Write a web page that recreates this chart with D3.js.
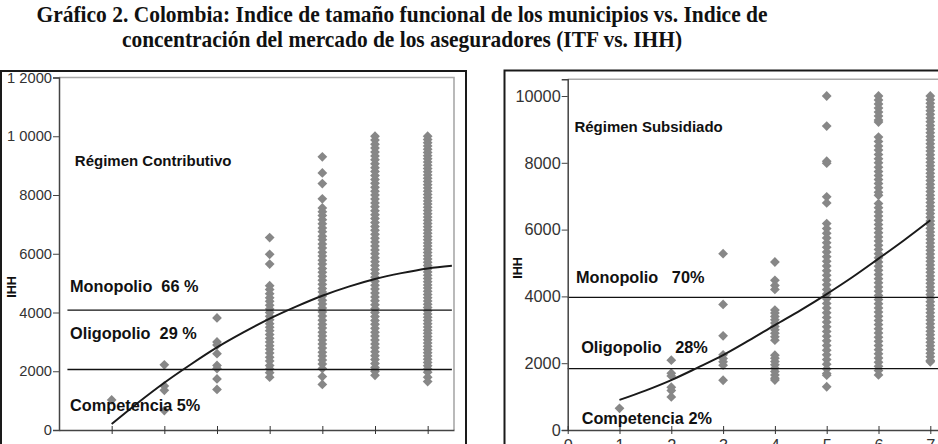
<!DOCTYPE html>
<html>
<head>
<meta charset="utf-8">
<script src="https://cdn.jsdelivr.net/npm/d3@7"></script>
<style>
  body { margin: 0; background: #fff; }
  svg { display: block; }
  text { font-family: "Liberation Sans", Arial, sans-serif; }
  .title { font-family: "Liberation Serif", "Times New Roman", serif; font-weight: bold; font-size: 24px; fill: #111; }
  .note { font-weight: bold; fill: #111; white-space: pre; }
</style>
</head>
<body>
<script>
// ---- data ----
var titleLines = ["Gráfico 2. Colombia: Indice de tamaño funcional de los municipios vs. Indice de",
                  "concentración del mercado de los aseguradores (ITF vs. IHH)"];
var titleWidths = [731, 560];

var itfTicks = [0, 1, 2, 3, 4, 5, 6, 7];
var ihhTicksContrib = [0, 2000, 4000, 6000, 8000, 10000, 12000];
var ihhLabelsContrib = ["0", "2000", "4000", "6000", "8000", "1 0000", "1 2000"];
var ihhTicksSubsid = [0, 2000, 4000, 6000, 8000, 10000];
var ihhLabelsSubsid = ["0", "2000", "4000", "6000", "8000", "10000"];

// Régimen Contributivo: IHH by ITF
var contrib1 = [1025];
var contrib2 = [2220, 1500, 1350, 660];
var contrib3 = [3815, 2995, 2890, 2600, 2200, 2090, 1740, 1380];
var contrib4 = [6550, 5980, 5650, 4910, 4780, 4640, 4500, 4380, 4250, 4120, 4000, 3870, 3750, 3620, 3500,
                3380, 3250, 3120, 3000, 2870, 2750, 2620, 2480, 2350, 2200, 2080, 1950, 1800];
var contrib5 = [9300, 8750, 8390, 7870, 7560, 7430, 7300, 7160, 7020, 6880, 6750, 6600, 6480, 6330, 6200,
                6050, 5920, 5780, 5650, 5500, 5370, 5230, 5100, 4960, 4820, 4700, 4560, 4420, 4290, 4150,
                4020, 3880, 3740, 3600, 3470, 3330, 3200, 3060, 2930, 2790, 2650, 2520, 2380, 2250, 2090,
                1820, 1550];
var contrib6 = [10000, 9870, 9730, 9600, 9460, 9330, 9200, 9060, 8930, 8800, 8660, 8530, 8400, 8260, 8130,
                8000, 7860, 7730, 7600, 7460, 7330, 7200, 7060, 6930, 6800, 6660, 6530, 6400, 6260, 6130,
                6000, 5860, 5730, 5600, 5460, 5330, 5200, 5060, 4930, 4800, 4660, 4530, 4400, 4260, 4130,
                4000, 3860, 3730, 3600, 3460, 3330, 3200, 3060, 2930, 2800, 2660, 2530, 2400, 2260, 2130,
                2000, 1860];
var contrib7 = [10000, 9890, 9780, 9670, 9560, 9450, 9340, 9230, 9120, 9010, 8900, 8790, 8680, 8570, 8460,
                8350, 8240, 8130, 8020, 7910, 7800, 7690, 7580, 7470, 7360, 7250, 7140, 7030, 6920, 6810,
                6700, 6590, 6480, 6370, 6260, 6150, 6040, 5930, 5820, 5710, 5600, 5490, 5380, 5270, 5160,
                5050, 4940, 4830, 4720, 4610, 4500, 4390, 4280, 4170, 4060, 3950, 3840, 3730, 3620, 3510,
                3400, 3290, 3180, 3070, 2960, 2850, 2740, 2630, 2520, 2410, 2300, 2190, 2080, 1970, 1800,
                1650];

// Régimen Subsidiado: IHH by ITF
var subsid1 = [650];
var subsid2 = [2090, 1700, 1620, 1280, 1180, 990];
var subsid3 = [5280, 3760, 2820, 2250, 2140, 2040, 1940, 1490];
var subsid4 = [5030, 4480, 4330, 4210, 3590, 3500, 3400, 3300, 3200, 3100, 3000, 2900, 2790, 2690,
               2240, 2150, 2050, 1950, 1850, 1750, 1650, 1550, 1495];
var subsid5 = [10000, 9100, 8050, 7990, 6980, 6800, 6180, 6030, 5890, 5750, 5610, 5470, 5330, 5190, 5050,
               4910, 4770, 4630, 4490, 4350, 4210, 4070, 3930, 3790, 3650, 3510, 3370, 3230, 3090, 2950,
               2810, 2670, 2530, 2390, 2250, 2110, 1970, 1830, 1690, 1640, 1295];
var subsid6 = [10000, 9880, 9760, 9640, 9520, 9400, 9280, 9220,
               8770, 8640, 8500, 8380, 8250, 8120, 8000, 7870, 7740, 7620, 7500, 7380, 7250, 7120, 7025,
               6780, 6655, 6530, 6405, 6280, 6155, 6030, 5905, 5780, 5655, 5530, 5405, 5280, 5155, 5030,
               4905, 4780, 4655, 4530, 4405, 4280, 4155, 4030, 3905, 3780, 3655, 3530, 3405, 3280, 3155,
               3030, 2905, 2780, 2655, 2530, 2405, 2280, 2155, 2030, 1905, 1780, 1650];
var subsid7 = [10000, 9890, 9780, 9670, 9560, 9450, 9340, 9230, 9120, 9010, 8900, 8790, 8680, 8570, 8460,
               8350, 8240, 8130, 8020, 7910, 7800, 7690, 7580, 7470, 7360, 7250, 7140, 7030, 6920, 6810,
               6700, 6590, 6480, 6370, 6260, 6150, 6040, 5930, 5820, 5710, 5600, 5490, 5380, 5270, 5160,
               5050, 4940, 4830, 4720, 4610, 4500, 4390, 4280, 4170, 4060, 3950, 3840, 3730, 3620, 3510,
               3400, 3290, 3180, 3070, 2960, 2850, 2740, 2630, 2520, 2410, 2300, 2190, 2080, 2040];

// trend curves (itf, ihh)
var trendContribX = [1, 1.5, 2, 2.5, 3, 3.5, 4, 4.5, 5, 5.5, 6, 6.5, 7, 7.46];
var trendContribY = [205, 930, 1610, 2230, 2810, 3320, 3790, 4200, 4570, 4880, 5140, 5340, 5500, 5590];
var trendSubsidX = [1, 1.5, 2, 2.5, 3, 3.5, 4, 4.5, 5, 5.5, 6, 6.5, 7];
var trendSubsidY = [900, 1180, 1495, 1860, 2240, 2680, 3140, 3590, 4070, 4580, 5130, 5690, 6280];

// market thresholds and their shares
var thresholdsContrib = [4080, 2060];
var thresholdsSubsid = [3970, 1840];
var marketNames = ["Monopolio", "Oligopolio", "Competencia"];
var sharesContrib = ["  66 %", "  29 %", " 5%"];
var sharesSubsid = ["   70%", "   28%", " 2%"];

// ---- drawing ----
var W = 938, H = 444;
var svg = d3.select("body").append("svg").attr("width", W).attr("height", H);

svg.selectAll("text.title").data(titleLines).enter().append("text")
    .attr("class", "title")
    .attr("x", 402)
    .attr("y", function(d, i){ return 22 + i * 25; })
    .attr("text-anchor", "middle")
    .attr("textLength", function(d, i){ return titleWidths[i]; })
    .attr("lengthAdjust", "spacingAndGlyphs")
    .text(function(d){ return d; });

function toPoints(cols){
  var pts = [];
  cols.forEach(function(vals, i){
    vals.forEach(function(v){ pts.push({itf: i + 1, ihh: v}); });
  });
  return pts;
}

function drawPanel(p){
  var g = svg.append("g");
  var x = d3.scaleLinear().domain(p.xDomain).range(p.xRange);
  var y = d3.scaleLinear().domain(p.yDomain).range(p.yRange);

  // outer frame
  g.append("rect").attr("x", p.frame[0]).attr("y", p.frame[1])
    .attr("width", p.frame[2]).attr("height", p.frame[3])
    .attr("fill", "none").attr("stroke", "#1a1a1a").attr("stroke-width", 2);

  // light plot border (top, right)
  g.append("path")
    .attr("d", "M" + x(p.xDomain[0]) + "," + y(p.yDomain[1]) + "H" + x(p.xDomain[1]) + "V" + y(0))
    .attr("fill", "none").attr("stroke", "#a9a9a9").attr("stroke-width", 1.6);

  // points
  var sym = d3.symbol().type(d3.symbolSquare).size(48);
  g.append("g").selectAll("path").data(toPoints(p.cols)).enter().append("path")
    .attr("d", sym)
    .attr("transform", function(d){ return "translate(" + x(d.itf) + "," + y(d.ihh) + ") rotate(45)"; })
    .attr("fill", "#878787");

  // thresholds
  g.append("g").selectAll("line").data(p.thresholds).enter().append("line")
    .attr("x1", x(p.lineFrom)).attr("x2", x(p.lineTo))
    .attr("y1", function(d){ return y(d); }).attr("y2", function(d){ return y(d); })
    .attr("stroke", "#111").attr("stroke-width", 1.3);

  // trend
  var trend = p.trendX.map(function(d, i){ return [d, p.trendY[i]]; });
  g.append("path").datum(trend)
    .attr("d", d3.line().x(function(d){ return x(d[0]); }).y(function(d){ return y(d[1]); }).curve(d3.curveMonotoneX))
    .attr("fill", "none").attr("stroke", "#1a1a1a").attr("stroke-width", 2);

  // axes
  var yAxis = d3.axisLeft(y).tickValues(p.yTicks).tickSize(6).tickPadding(1)
    .tickFormat(function(d, i){ return p.yLabels[i]; });
  var ya = g.append("g").attr("transform", "translate(" + x(0) + ",0)").call(yAxis);
  ya.select(".domain").attr("stroke", "#444").attr("stroke-width", 1.5);
  ya.selectAll(".tick line").attr("stroke", "#444");
  ya.selectAll("text").attr("font-size", p.tickFont).attr("fill", "#333")
    .attr("font-family", "'Liberation Sans', Arial, sans-serif");

  var xAxis = d3.axisBottom(x).tickValues(p.xTicks).tickSize(4).tickPadding(5).tickSizeOuter(0)
    .tickFormat(p.xLabels ? d3.format("d") : "");
  var xa = g.append("g").attr("transform", "translate(0," + y(0) + ")").call(xAxis);
  xa.select(".domain").attr("stroke", "#444").attr("stroke-width", 1.5);
  xa.selectAll(".tick line").attr("stroke", "#333").attr("y1", -4);
  xa.selectAll("text").attr("font-size", p.tickFont).attr("fill", "#333")
    .attr("font-family", "'Liberation Sans', Arial, sans-serif");

  // y label
  g.append("text").attr("class", "note")
    .attr("transform", "translate(" + p.ihhPos[0] + "," + p.ihhPos[1] + ") rotate(-90)")
    .attr("text-anchor", "middle").attr("dominant-baseline", "central")
    .attr("font-size", 12.5).text("IHH");

  // regime name
  g.append("text").attr("class", "note")
    .attr("x", x(p.regimePos[0])).attr("y", y(p.regimePos[1]))
    .attr("dominant-baseline", "central").attr("font-size", 15).text(p.regime);

  // market type notes
  g.selectAll("text.mk").data(p.marketPos).enter().append("text")
    .attr("class", "note mk")
    .attr("x", function(d){ return x(d[0]); })
    .attr("y", function(d){ return y(d[1]); })
    .attr("dominant-baseline", "central").attr("font-size", 16.3)
    .text(function(d, i){ return marketNames[i] + p.shares[i]; });
}

drawPanel({
  xDomain: [0, 7.5], xRange: [59, 454],
  yDomain: [0, 12000], yRange: [430, 77.5],
  frame: [1, 71, 465, 420],
  cols: [contrib1, contrib2, contrib3, contrib4, contrib5, contrib6, contrib7],
  thresholds: thresholdsContrib, lineFrom: 0.16, lineTo: 7.46,
  trendX: trendContribX, trendY: trendContribY,
  yTicks: ihhTicksContrib, yLabels: ihhLabelsContrib,
  xTicks: itfTicks.slice(1), xLabels: false,
  tickFont: 14.7,
  ihhPos: [12, 287],
  regime: "Régimen Contributivo", regimePos: [0.30, 9190],
  marketPos: [[0.21, 4900], [0.21, 3310], [0.21, 850]],
  shares: sharesContrib
});

drawPanel({
  xDomain: [0, 7.5], xRange: [567.7, 956.2],
  yDomain: [0, 10500], yRange: [430, 79.3],
  frame: [504.5, 70.5, 500, 420],
  cols: [subsid1, subsid2, subsid3, subsid4, subsid5, subsid6, subsid7],
  thresholds: thresholdsSubsid, lineFrom: 0, lineTo: 7.5,
  trendX: trendSubsidX, trendY: trendSubsidY,
  yTicks: ihhTicksSubsid, yLabels: ihhLabelsSubsid,
  xTicks: itfTicks, xLabels: true,
  tickFont: 16.3,
  ihhPos: [518, 268],
  regime: "Régimen Subsidiado", regimePos: [0.13, 9100],
  marketPos: [[0.16, 4590], [0.26, 2490], [0.27, 350]],
  shares: sharesSubsid
});
</script>
</body>
</html>
